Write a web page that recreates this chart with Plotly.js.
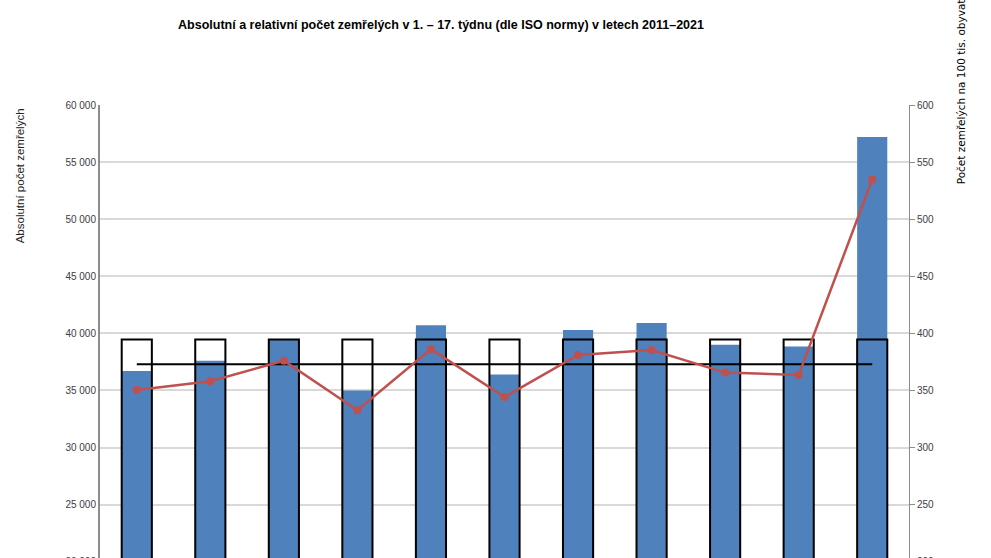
<!DOCTYPE html>
<html>
<head>
<meta charset="utf-8">
<script src="https://cdn.plot.ly/plotly-3.0.1.min.js"></script>
<style>
  html, body { margin: 0; padding: 0; background: #fff; overflow: hidden; }
  #frame { width: 991px; height: 558px; overflow: hidden; position: relative; }
  #chart { width: 991px; height: 840px; }
</style>
</head>
<body>
<div id="frame"><div id="chart"></div></div>
<script>
/* -------------------- Data -------------------- */

const years = ["2011", "2012", "2013", "2014", "2015", "2016", "2017", "2018", "2019", "2020", "2021"];

// absolutní počet zemřelých (1.–17. týden)
const deathsAbs = [36700, 37600, 39450, 35000, 40700, 36400, 40300, 40900, 39000, 38850, 57200];

// průměr (obrys sloupců)
const deathsAvg = [39450, 39450, 39450, 39450, 39450, 39450, 39450, 39450, 39450, 39450, 39450];

// počet zemřelých na 100 tis. obyvatel
const deathsRel = [350.3, 358, 376, 332.7, 386.2, 344.2, 381, 385.4, 365.6, 363.6, 534.7];

// průměr relativního počtu
const relAvg = [373, 373, 373, 373, 373, 373, 373, 373, 373, 373, 373];

/* -------------------- Chart -------------------- */

const BLUE = "#4f81bd";
const RED = "#c0504d";
const AXIS = "#8c8c8c";
const GRID = "#d9d9d9";

const traces = [
  {
    type: "bar",
    x: years,
    y: deathsAbs,
    width: 0.41,
    marker: { color: BLUE, line: { width: 0 } },
    hoverinfo: "y",
  },
  {
    type: "bar",
    x: years,
    y: deathsAvg,
    width: 0.41,
    marker: { color: "rgba(0,0,0,0)", line: { color: "#000", width: 2 } },
    hoverinfo: "skip",
  },
  {
    type: "scatter",
    mode: "lines",
    x: years,
    y: relAvg,
    yaxis: "y2",
    line: { color: "#000", width: 2 },
    hoverinfo: "skip",
  },
  {
    type: "scatter",
    mode: "lines+markers",
    x: years,
    y: deathsRel,
    yaxis: "y2",
    line: { color: RED, width: 2.5 },
    marker: { color: RED, size: 8, symbol: "circle" },
  },
];

const tickFont = { family: "Arial, Liberation Sans, sans-serif", size: 10, color: "#404040" };

const layout = {
  width: 991,
  height: 840,
  margin: { l: 100, r: 82, t: 105, b: 50 },
  paper_bgcolor: "#fff",
  plot_bgcolor: "#fff",
  showlegend: false,
  barmode: "overlay",
  separators: ", ",
  title: {
    text: "Absolutní a relativní počet zemřelých v 1. – 17. týdnu (dle ISO normy) v letech 2011–2021",
    font: { family: "Arial, Liberation Sans, sans-serif", size: 12.5, color: "#000", weight: "bold" },
    xref: "container",
    yref: "container",
    x: 441 / 991,
    xanchor: "center",
    y: 1 - 25 / 840,
    yanchor: "middle",
  },
  xaxis: {
    type: "category",
    range: [-0.5, 10.5],
    showline: false,
    ticks: "",
    tickfont: tickFont,
    showgrid: false,
  },
  yaxis: {
    range: [0, 60000],
    dtick: 5000,
    tickformat: ",d",
    tickfont: tickFont,
    showgrid: true,
    gridcolor: GRID,
    gridwidth: 1.5,
    zeroline: false,
    showline: true,
    linecolor: AXIS,
    linewidth: 2,
    ticks: "",
    ticklabelstandoff: 0,
  },
  yaxis2: {
    overlaying: "y",
    side: "right",
    range: [0, 600],
    dtick: 50,
    tickfont: tickFont,
    showgrid: false,
    zeroline: false,
    showline: true,
    linecolor: AXIS,
    linewidth: 1,
    ticks: "outside",
    ticklen: 5,
    tickcolor: AXIS,
    ticklabelstandoff: 0,
  },
  annotations: [
    {
      text: "Absolutní počet zemřelých",
      textangle: -90,
      xref: "paper",
      yref: "paper",
      x: 0,
      xshift: -80,
      y: (789.7 - 176) / 685,
      xanchor: "center",
      yanchor: "middle",
      showarrow: false,
      font: { family: "Arial, Liberation Sans, sans-serif", size: 11.5, color: "#262626" },
    },
    {
      text: "Počet zemřelých na 100 tis. obyvatel",
      textangle: -90,
      xref: "paper",
      yref: "paper",
      x: 1,
      xshift: 52,
      y: (789.7 - 87) / 685,
      xanchor: "center",
      yanchor: "middle",
      showarrow: false,
      font: { family: "DejaVu Sans, Verdana, sans-serif", size: 10.5, color: "#000" },
    },
  ],
};

Plotly.newPlot("chart", traces, layout, { displayModeBar: false, responsive: false });
</script>
</body>
</html>
